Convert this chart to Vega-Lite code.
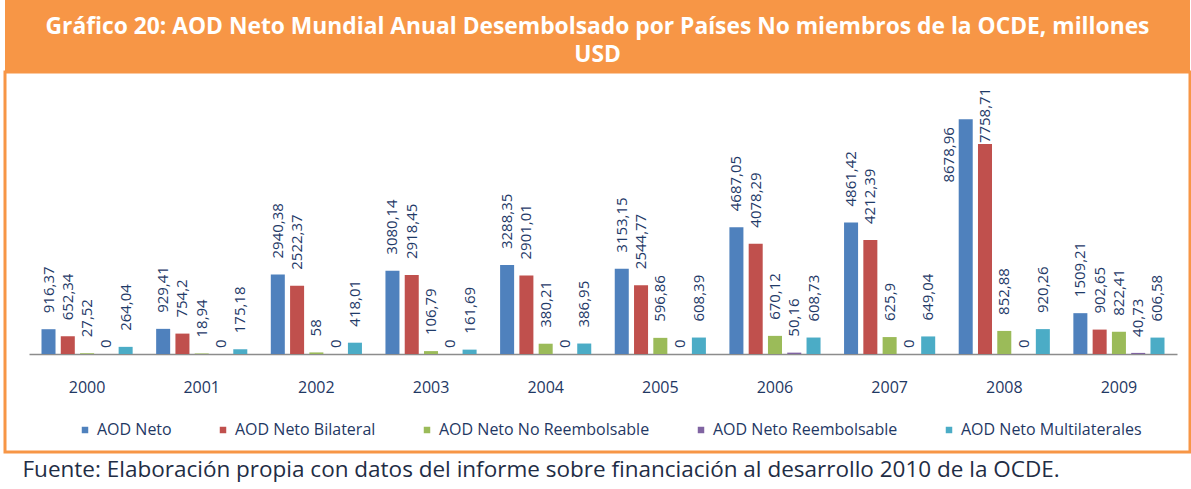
{
  "$schema": "https://vega.github.io/schema/vega-lite/v6.json",
  "background": "white",
  "padding": {"left": 3, "right": 3, "top": 0, "bottom": 9},
  "spacing": 0,
  "bounds": "flush",
  "title": {
    "text": "Fuente: Elaboración propia con datos del informe sobre financiación al desarrollo 2010 de la OCDE.",
    "orient": "bottom",
    "anchor": "start",
    "dx": 19,
    "offset": 5,
    "font": "Open Sans",
    "fontSize": 22.5,
    "fontWeight": "normal",
    "color": "#1F2D45"
  },
  "config": {
    "locale": {"number": {"decimal": ",", "thousands": ".", "grouping": [3], "currency": ["", " €"]}},
    "font": "Open Sans"
  },
  "vconcat": [
    {
      "width": 1185,
      "height": 72,
      "view": {"fill": "#F79646", "stroke": null},
      "data": {"values": [{}]},
      "mark": {
        "type": "text",
        "text": ["Gráfico 20: AOD Neto Mundial Anual Desembolsado por Países No miembros de la OCDE, millones", "USD"],
        "font": "Open Sans",
        "fontWeight": "bold",
        "fontSize": 22.8,
        "color": "white",
        "lineHeight": 28,
        "align": "center",
        "baseline": "middle",
        "dy": -9
      },
      "encoding": {}
    },
    {
      "width": 1185,
      "height": 380,
      "view": {"stroke": "#F79646", "strokeWidth": 3, "fill": null},
      "data": {
        "values": [
          {"year": "2000", "serie": "AOD Neto", "value": 916.37},
          {"year": "2000", "serie": "AOD Neto Bilateral", "value": 652.34},
          {"year": "2000", "serie": "AOD Neto No Reembolsable", "value": 27.52},
          {"year": "2000", "serie": "AOD Neto Reembolsable", "value": 0},
          {"year": "2000", "serie": "AOD Neto Multilaterales", "value": 264.04},
          {"year": "2001", "serie": "AOD Neto", "value": 929.41},
          {"year": "2001", "serie": "AOD Neto Bilateral", "value": 754.2},
          {"year": "2001", "serie": "AOD Neto No Reembolsable", "value": 18.94},
          {"year": "2001", "serie": "AOD Neto Reembolsable", "value": 0},
          {"year": "2001", "serie": "AOD Neto Multilaterales", "value": 175.18},
          {"year": "2002", "serie": "AOD Neto", "value": 2940.38},
          {"year": "2002", "serie": "AOD Neto Bilateral", "value": 2522.37},
          {"year": "2002", "serie": "AOD Neto No Reembolsable", "value": 58},
          {"year": "2002", "serie": "AOD Neto Reembolsable", "value": 0},
          {"year": "2002", "serie": "AOD Neto Multilaterales", "value": 418.01},
          {"year": "2003", "serie": "AOD Neto", "value": 3080.14},
          {"year": "2003", "serie": "AOD Neto Bilateral", "value": 2918.45},
          {"year": "2003", "serie": "AOD Neto No Reembolsable", "value": 106.79},
          {"year": "2003", "serie": "AOD Neto Reembolsable", "value": 0},
          {"year": "2003", "serie": "AOD Neto Multilaterales", "value": 161.69},
          {"year": "2004", "serie": "AOD Neto", "value": 3288.35},
          {"year": "2004", "serie": "AOD Neto Bilateral", "value": 2901.01},
          {"year": "2004", "serie": "AOD Neto No Reembolsable", "value": 380.21},
          {"year": "2004", "serie": "AOD Neto Reembolsable", "value": 0},
          {"year": "2004", "serie": "AOD Neto Multilaterales", "value": 386.95},
          {"year": "2005", "serie": "AOD Neto", "value": 3153.15},
          {"year": "2005", "serie": "AOD Neto Bilateral", "value": 2544.77},
          {"year": "2005", "serie": "AOD Neto No Reembolsable", "value": 596.86},
          {"year": "2005", "serie": "AOD Neto Reembolsable", "value": 0},
          {"year": "2005", "serie": "AOD Neto Multilaterales", "value": 608.39},
          {"year": "2006", "serie": "AOD Neto", "value": 4687.05},
          {"year": "2006", "serie": "AOD Neto Bilateral", "value": 4078.29},
          {"year": "2006", "serie": "AOD Neto No Reembolsable", "value": 670.12},
          {"year": "2006", "serie": "AOD Neto Reembolsable", "value": 50.16},
          {"year": "2006", "serie": "AOD Neto Multilaterales", "value": 608.73},
          {"year": "2007", "serie": "AOD Neto", "value": 4861.42},
          {"year": "2007", "serie": "AOD Neto Bilateral", "value": 4212.39},
          {"year": "2007", "serie": "AOD Neto No Reembolsable", "value": 625.9},
          {"year": "2007", "serie": "AOD Neto Reembolsable", "value": 0},
          {"year": "2007", "serie": "AOD Neto Multilaterales", "value": 649.04},
          {"year": "2008", "serie": "AOD Neto", "value": 8678.96},
          {"year": "2008", "serie": "AOD Neto Bilateral", "value": 7758.71},
          {"year": "2008", "serie": "AOD Neto No Reembolsable", "value": 852.88},
          {"year": "2008", "serie": "AOD Neto Reembolsable", "value": 0},
          {"year": "2008", "serie": "AOD Neto Multilaterales", "value": 920.26},
          {"year": "2009", "serie": "AOD Neto", "value": 1509.21},
          {"year": "2009", "serie": "AOD Neto Bilateral", "value": 902.65},
          {"year": "2009", "serie": "AOD Neto No Reembolsable", "value": 822.41},
          {"year": "2009", "serie": "AOD Neto Reembolsable", "value": 40.73},
          {"year": "2009", "serie": "AOD Neto Multilaterales", "value": 606.58}
        ]
      },
      "encoding": {
        "x": {
          "field": "year",
          "type": "nominal",
          "scale": {"range": [24, 1172], "paddingInner": 0.205, "paddingOuter": 0.109},
          "axis": {
            "title": null,
            "orient": "bottom",
            "offset": -98,
            "labelAngle": 0,
            "ticks": false,
            "domainColor": "#8c8c8c",
            "domainWidth": 1.5,
            "labelPadding": 25,
            "labelFont": "Open Sans",
            "labelFontSize": 16,
            "labelColor": "#1F3864"
          }
        },
        "xOffset": {
          "field": "serie",
          "type": "nominal",
          "sort": ["AOD Neto", "AOD Neto Bilateral", "AOD Neto No Reembolsable", "AOD Neto Reembolsable", "AOD Neto Multilaterales"],
          "scale": {"paddingInner": 0.273, "paddingOuter": 0}
        },
        "y": {"field": "value", "type": "quantitative", "scale": {"domain": [0, 9500], "range": [282, 25], "nice": false, "zero": true}, "axis": null}
      },
      "layer": [
        {
          "mark": {"type": "bar"},
          "encoding": {
            "color": {
              "field": "serie",
              "type": "nominal",
              "scale": {
                "domain": ["AOD Neto", "AOD Neto Bilateral", "AOD Neto No Reembolsable", "AOD Neto Reembolsable", "AOD Neto Multilaterales"],
                "range": ["#4F81BD", "#C0504D", "#9BBB59", "#8064A2", "#4BACC6"]
              },
              "legend": {
                "orient": "none",
                "legendX": 72,
                "legendY": 422,
                "direction": "horizontal",
                "columns": 5,
                "title": null,
                "padding": 0,
                "symbolType": "square",
                "symbolSize": 42,
                "symbolStrokeWidth": 0,
                "labelFont": "Open Sans",
                "labelFontSize": 16,
                "labelColor": "#1F3864",
                "labelLimit": 400,
                "labelOffset": 4,
                "columnPadding": 43
              }
            }
          }
        },
        {
          "transform": [{"filter": "datum.value > 0 && datum.value < 7000"}],
          "mark": {"type": "text", "angle": -90, "align": "left", "baseline": "middle", "dx": 16, "font": "Open Sans", "fontSize": 15, "color": "#1F3A68"},
          "encoding": {
            "text": {"field": "value", "type": "quantitative", "format": ".2~f"}
          }
        },
        {
          "transform": [{"filter": "datum.value == 0"}],
          "mark": {"type": "text", "angle": -90, "align": "left", "baseline": "middle", "dx": 6, "font": "Open Sans", "fontSize": 15, "color": "#1F3A68"},
          "encoding": {
            "text": {"field": "value", "type": "quantitative", "format": ".2~f"}
          }
        },
        {
          "transform": [{"filter": "datum.value >= 7000 && datum.value < 8000"}],
          "mark": {"type": "text", "angle": -90, "align": "left", "baseline": "middle", "dx": 1, "font": "Open Sans", "fontSize": 15, "color": "#1F3A68"},
          "encoding": {
            "text": {"field": "value", "type": "quantitative", "format": ".2~f"}
          }
        },
        {
          "transform": [{"filter": "datum.value >= 8000"}],
          "mark": {"type": "text", "angle": -90, "align": "right", "baseline": "middle", "dx": -8, "dy": -17, "font": "Open Sans", "fontSize": 15, "color": "#1F3A68"},
          "encoding": {
            "text": {"field": "value", "type": "quantitative", "format": ".2~f"}
          }
        }
      ]
    }
  ]
}
